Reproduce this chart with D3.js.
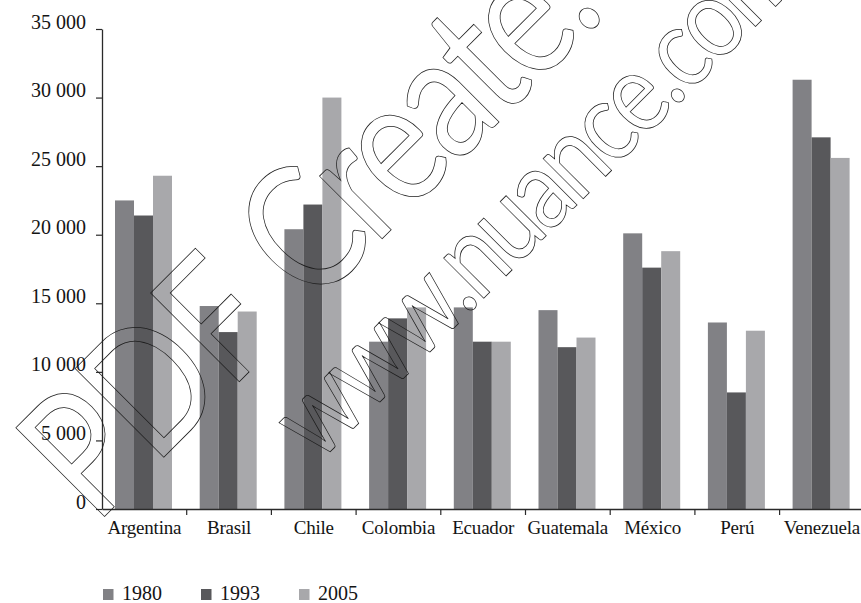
<!DOCTYPE html>
<html>
<head>
<meta charset="utf-8">
<script src="https://cdn.jsdelivr.net/npm/d3@7"></script>
<style>
  body { margin: 0; background: #fff; }
  svg { display: block; }
</style>
</head>
<body>
<svg id="chart" width="861" height="603"></svg>
<script>
// chart data
const categories = ["Argentina", "Brasil", "Chile", "Colombia", "Ecuador", "Guatemala", "México", "Perú", "Venezuela"];
const years = ["1980", "1993", "2005"];
const values1980 = [22500, 14800, 20400, 12200, 14700, 14500, 20100, 13600, 31300];
const values1993 = [21400, 12900, 22200, 13900, 12200, 11800, 17600, 8500, 27100];
const values2005 = [24300, 14400, 30000, 14700, 12200, 12500, 18800, 13000, 25600];
const yTicks = [0, 5000, 10000, 15000, 20000, 25000, 30000, 35000];

const series = [values1980, values1993, values2005];
const colors = ["#818185", "#58585b", "#a8a8ab"];

const svg = d3.select("#chart");
const font = "'Liberation Serif', 'DejaVu Serif', serif";

// scales
const x = d3.scaleBand().domain(categories).range([102, 102 + 9 * 84.7]);
const xs = d3.scaleBand().domain(years).range([13, 70]);
const y = d3.scaleLinear().domain([0, 35000]).range([509, 29]);

// format with a space as thousands separator
const fmt = d3.formatLocale({ decimal: ",", thousands: " ", grouping: [3], currency: ["", ""] }).format(",");

// bars
const groups = svg.append("g")
  .selectAll("g")
  .data(categories)
  .join("g")
  .attr("transform", d => `translate(${x(d)},0)`);

groups.selectAll("rect")
  .data((c, i) => years.map((yr, j) => ({ yr: yr, v: series[j][i], j: j })))
  .join("rect")
  .attr("x", d => xs(d.yr))
  .attr("width", xs.bandwidth())
  .attr("y", d => y(d.v))
  .attr("height", d => y(0) - y(d.v))
  .attr("fill", d => colors[d.j]);

// y axis
const yAxis = svg.append("g")
  .attr("transform", "translate(102,0)")
  .call(d3.axisLeft(y).tickValues(yTicks).tickFormat(fmt).tickSize(6).tickSizeOuter(0));
yAxis.select(".domain").attr("stroke", "#2a2a2a").attr("stroke-width", 1.3);
yAxis.selectAll(".tick line").attr("stroke", "#2a2a2a").attr("stroke-width", 1.2);
yAxis.selectAll(".tick text")
  .attr("x", -16)
  .attr("dy", "-0.05em")
  .attr("fill", "#141414")
  .style("font-family", font)
  .style("font-size", "20px");

// x axis: labels under band centres, ticks on band boundaries
const xAxis = svg.append("g")
  .attr("transform", "translate(0,509)")
  .call(d3.axisBottom(x).tickSize(0).tickSizeOuter(0));
xAxis.select(".domain").attr("stroke", "#2a2a2a").attr("stroke-width", 1.3);
xAxis.selectAll(".tick text")
  .attr("y", 25)
  .attr("dy", 0)
  .attr("fill", "#141414")
  .style("font-family", font)
  .style("font-size", "19px")
  .style("letter-spacing", "-0.2px");
xAxis.selectAll("line.bound")
  .data(categories.slice(1))
  .join("line")
  .attr("class", "bound")
  .attr("x1", d => x(d)).attr("x2", d => x(d))
  .attr("y1", 0).attr("y2", 6)
  .attr("stroke", "#2a2a2a")
  .attr("stroke-width", 1.2);

// legend
const legend = svg.append("g")
  .selectAll("g")
  .data(years)
  .join("g")
  .attr("transform", (d, i) => `translate(${103 + i * 98},589)`);
legend.append("rect")
  .attr("width", 10.5).attr("height", 11)
  .attr("fill", (d, i) => colors[i]);
legend.append("text")
  .attr("x", 19).attr("y", 11)
  .attr("fill", "#141414")
  .style("font-family", font)
  .style("font-size", "20px")
  .text(d => d);

// watermark, outlined text drawn on top (squeezed a bit to look like a narrow font)
const wm = svg.append("g")
  .attr("fill", "none")
  .attr("stroke", "#1a1a1a")
  .attr("stroke-width", 0.8)
  .style("font-family", "Lato, 'Open Sans', sans-serif");

const line1 = wm.append("text")
  .attr("transform", "translate(104,517) rotate(-45) scale(0.82,1)")
  .style("font-size", "175px");
line1.append("tspan")
  .attr("x", -15)
  .style("letter-spacing", "-3px")
  .text("PDF");
line1.append("tspan")
  .attr("x", 358)
  .style("letter-spacing", "-7px")
  .text("Create! 6");

wm.append("text")
  .attr("transform", "translate(318,464) rotate(-45) scale(0.85,1)")
  .style("font-size", "112px")
  .style("letter-spacing", "-5px")
  .text("www.nuance.com");
</script>
</body>
</html>
